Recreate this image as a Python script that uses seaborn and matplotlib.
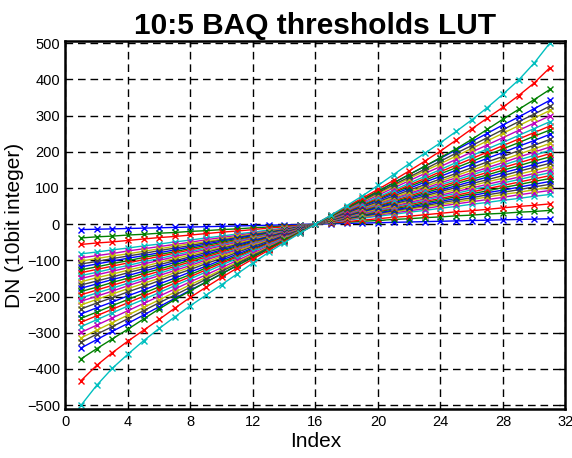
import matplotlib
matplotlib.use("Agg")
import matplotlib.pyplot as plt
import pandas as pd
import seaborn as sns

# LUT index on the x axis
index = list(range(1, 32))

# upper half of every LUT row (index 17..31); index 16 is 0 and the
# lower half (index 1..15) is the same values with the sign flipped
lut_upper = [
    [1, 2, 3, 4, 5, 6, 7, 8, 9, 10, 11, 12, 13, 14, 15],
    [3, 5, 8, 10, 13, 15, 18, 20, 23, 25, 28, 30, 33, 35, 38],
    [4, 7, 11, 15, 19, 22, 26, 30, 34, 37, 41, 45, 49, 52, 56],
    [5, 11, 16, 22, 27, 33, 38, 44, 49, 55, 60, 66, 71, 77, 82],
    [6, 12, 19, 25, 31, 37, 43, 50, 56, 62, 68, 74, 81, 87, 93],
    [7, 14, 20, 27, 34, 41, 48, 54, 61, 68, 75, 82, 88, 95, 102],
    [7, 15, 22, 29, 37, 44, 51, 59, 66, 73, 81, 88, 95, 103, 110],
    [8, 16, 24, 31, 39, 47, 55, 63, 71, 79, 87, 94, 102, 110, 118],
    [8, 17, 25, 34, 42, 50, 59, 67, 76, 84, 92, 101, 109, 118, 126],
    [9, 18, 27, 36, 45, 54, 63, 71, 80, 89, 98, 107, 116, 125, 134],
    [9, 19, 28, 38, 47, 57, 66, 76, 85, 95, 104, 114, 123, 133, 142],
    [10, 20, 30, 40, 50, 60, 70, 80, 90, 100, 110, 120, 130, 140, 150],
    [11, 21, 32, 42, 53, 64, 74, 85, 95, 106, 117, 127, 138, 148, 159],
    [11, 22, 34, 45, 56, 67, 78, 90, 101, 112, 123, 134, 146, 157, 168],
    [12, 24, 35, 47, 59, 71, 83, 94, 106, 118, 130, 142, 153, 165, 177],
    [12, 25, 37, 50, 62, 74, 87, 99, 112, 124, 136, 149, 161, 174, 186],
    [13, 26, 39, 52, 65, 78, 91, 104, 117, 130, 143, 156, 169, 182, 195],
    [14, 27, 41, 54, 68, 82, 95, 109, 122, 136, 150, 163, 177, 190, 204],
    [14, 28, 43, 57, 71, 85, 99, 114, 128, 142, 156, 170, 185, 199, 213],
    [15, 30, 45, 59, 74, 89, 104, 119, 134, 149, 164, 178, 193, 208, 223],
    [16, 31, 47, 62, 78, 94, 109, 125, 140, 156, 172, 187, 203, 218, 234],
    [17, 33, 50, 66, 83, 99, 116, 132, 149, 165, 182, 198, 215, 231, 248],
    [17, 35, 52, 69, 87, 104, 121, 139, 156, 173, 191, 208, 225, 243, 260],
    [18, 36, 54, 72, 90, 108, 126, 145, 163, 181, 199, 217, 235, 253, 271],
    [19, 38, 57, 75, 94, 113, 132, 151, 170, 189, 208, 226, 245, 264, 283],
    [20, 40, 60, 80, 100, 120, 140, 159, 179, 199, 219, 239, 259, 279, 299],
    [21, 42, 63, 84, 105, 126, 147, 167, 188, 209, 230, 251, 272, 293, 314],
    [22, 43, 65, 87, 109, 130, 152, 174, 196, 217, 239, 261, 283, 304, 326],
    [23, 46, 68, 91, 114, 137, 160, 182, 205, 228, 251, 274, 296, 319, 342],
    [22, 45, 68, 91, 114, 137, 160, 184, 208, 234, 262, 290, 317, 344, 372],
    [24, 48, 72, 96, 121, 147, 174, 202, 232, 263, 293, 323, 355, 390, 432],
    [25, 51, 78, 107, 137, 167, 196, 225, 256, 288, 322, 359, 398, 445, 500],
]

x_ticks = [0, 4, 8, 12, 16, 20, 24, 28, 32]
y_ticks = [-500, -400, -300, -200, -100, 0, 100, 200, 300, 400, 500]

# old matlab colour order b g r c m y k
matlab_colors = [(0, 0, 1), (0, 0.5, 0), (1, 0, 0), (0, 0.75, 0.75),
                 (0.75, 0, 0.75), (0.75, 0.75, 0), (0.25, 0.25, 0.25)]

rows = []
for r, upper in enumerate(lut_upper):
    full = [-v for v in upper[::-1]] + [0] + upper
    for i, v in zip(index, full):
        rows.append({"Index": i, "DN": v, "row": r})
df = pd.DataFrame(rows)

palette = [matlab_colors[r % 7] for r in range(len(lut_upper))]

sns.set_style("white")
plt.rcParams["font.family"] = ["Liberation Sans", "DejaVu Sans"]
plt.rcParams["text.color"] = "k"
plt.rcParams["axes.labelcolor"] = "k"

fig = plt.figure(figsize=(5.72, 4.58), dpi=100)
ax = fig.add_axes([0.1145, 0.1059, 0.874, 0.8046])

sns.lineplot(data=df, x="Index", y="DN", hue="row", palette=palette,
             marker="x", markersize=5, linewidth=1.0, legend=False, ax=ax)
for line in ax.lines:
    line.set_markeredgecolor(line.get_color())
    line.set_markeredgewidth(1.0)

ax.set_xlim(0, 32)
ax.set_ylim(-512, 506)
ax.set_xticks(x_ticks)
ax.set_yticks(y_ticks)
ax.grid(True, color="k", linestyle=(0, (5.5, 3.5)), linewidth=1.0)
ax.set_axisbelow(True)
ax.tick_params(direction="in", length=4, width=1, top=True, right=True,
               labelsize=10.5, colors="k", labelcolor="k", pad=4)
for s in ax.spines.values():
    s.set_visible(True)
    s.set_color("k")
    s.set_linewidth(1.8)

ax.set_xlabel("Index", fontsize=15, labelpad=2, color="k")
ax.set_ylabel("DN (10bit integer)", fontsize=15, labelpad=2, color="k")
ax.set_title("10:5 BAQ thresholds LUT", fontsize=21.5, fontweight="bold",
             pad=5, color="k")

fig.savefig("out.png", dpi=100)
